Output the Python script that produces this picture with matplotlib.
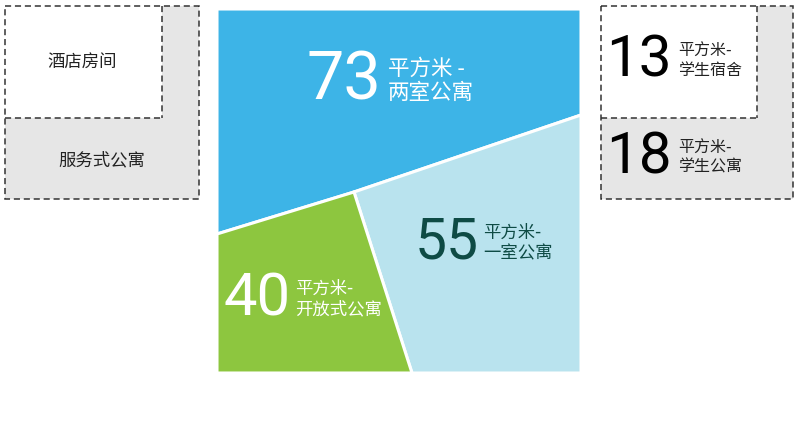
import matplotlib.pyplot as plt
from matplotlib.patches import Polygon, Rectangle

plt.rcParams['font.family'] = ['Noto Sans CJK SC', 'DejaVu Sans']

# -------------------------------------------------------------------
# Data: room sizes (square metres) and their names
# -------------------------------------------------------------------
main_sizes = [73, 55, 40]
main_labels = ["平方米 -\n两室公寓", "平方米-\n一室公寓", "平方米-\n开放式公寓"]
main_colors = ["#3DB4E7", "#B9E3EE", "#8DC63F"]
main_text_colors = ["white", "#0E4B45", "white"]

left_labels = ["酒店房间", "服务式公寓"]

right_sizes = [13, 18]
right_labels = ["平方米-\n学生宿舍", "平方米-\n学生公寓"]

NUM_FONT = ["Roboto", "DejaVu Sans"]

# -------------------------------------------------------------------
# Canvas in pixel coordinates
# -------------------------------------------------------------------
W, H = 800, 442
fig = plt.figure(figsize=(W / 100, H / 100), dpi=100)
ax = fig.add_axes([0, 0, 1, 1])
ax.set_xlim(0, W)
ax.set_ylim(H, 0)
ax.axis("off")

# central square layout (pixel positions)
sx0, sy0, sx1, sy1 = 217, 9, 581, 373
split_l = (sx0, 234)
split_r = (sx1, 115)
knee = (354, 192)
foot = (412, sy1)

shapes = [
    [(sx0, sy0), (sx1, sy0), split_r, knee, split_l],          # blue
    [knee, split_r, (sx1, sy1), foot],                          # light blue
    [split_l, knee, foot, (sx0, sy1)],                          # green
]
for pts, c in zip(shapes, main_colors):
    ax.add_patch(Polygon(pts, closed=True, fc=c, ec="white", lw=2.2,
                         joinstyle="miter"))

num_pos = [(381, 81, 48), (479, 243, 41), (291, 299, 43)]
lab_pos = [(388, 81, 15.5), (483, 243, 12.5), (295, 299, 12.5)]
for v, lab, tc, (nx, ny, nf), (lx, ly, lf) in zip(main_sizes, main_labels,
                                                    main_text_colors, num_pos, lab_pos):
    ax.text(nx, ny, str(v), ha="right", va="center", color=tc, fontsize=nf,
            family=NUM_FONT, fontweight="normal")
    ax.text(lx, ly, lab, ha="left", va="center", color=tc, fontsize=lf,
            linespacing=1.15)


def dashed_boxes(x0, x1, xi, y0, y1, yi):
    ax.add_patch(Rectangle((x0, y0), x1 - x0, y1 - y0, fc="#E6E6E6", ec="none"))
    ax.add_patch(Rectangle((x0, y0), xi - x0, yi - y0, fc="white", ec="none"))
    ax.plot([xi, xi], [y0, yi], ls=(0, (4, 2.5)), color="#333333", lw=1.1)
    ax.plot([x0, xi], [yi, yi], ls=(0, (4, 2.5)), color="#333333", lw=1.1)
    ax.add_patch(Rectangle((x0, y0), x1 - x0, y1 - y0, fc="none", ec="#333333",
                           lw=1.1, ls=(0, (4, 2.5))))


# left boxes
dashed_boxes(5, 199, 162, 6, 199, 118)
ax.text(82, 62, left_labels[0], ha="center", va="center", fontsize=12.5, color="#222222")
ax.text(102, 160, left_labels[1], ha="center", va="center", fontsize=12.5, color="#222222")

# right boxes
dashed_boxes(601, 793, 757, 6, 199, 118)
for v, lab, y in zip(right_sizes, right_labels, [61, 158]):
    ax.text(672, y, str(v), ha="right", va="center", fontsize=42, color="black",
            family=NUM_FONT, fontweight="normal")
    ax.text(678, y, lab, ha="left", va="center", fontsize=11.5, color="#222222",
            linespacing=1.15)

fig.savefig("out.png", dpi=100)
